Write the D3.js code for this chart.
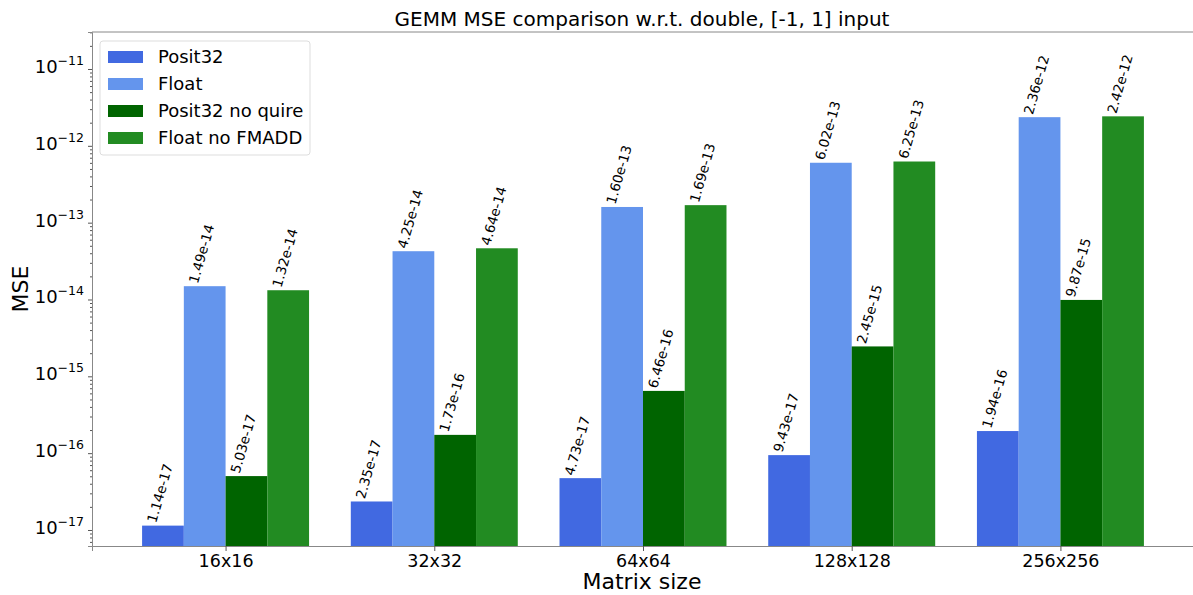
<!DOCTYPE html>
<html lang="en">
  <head>
    <meta charset="utf-8">
    <title>GEMM MSE</title>
    <script src="https://d3js.org/d3.v7.min.js"></script>
    <style>
      body { margin: 0; background: #fff; }
      text { font-family: "DejaVu Sans", sans-serif; fill: #000; }
    </style>
  </head>
  <body>
    <div id="chart"></div>
    <script>
      var sizes = ["16x16", "32x32", "64x64", "128x128", "256x256"];
      var series = ["Posit32", "Float", "Posit32 no quire", "Float no FMADD"];
      var posit32 = [1.14e-17, 2.35e-17, 4.73e-17, 9.43e-17, 1.94e-16];
      var float32 = [1.49e-14, 4.25e-14, 1.60e-13, 6.02e-13, 2.36e-12];
      var positNoQuire = [5.03e-17, 1.73e-16, 6.46e-16, 2.45e-15, 9.87e-15];
      var floatNoFmadd = [1.32e-14, 4.64e-14, 1.69e-13, 6.25e-13, 2.42e-12];
      var yTicks = [1e-17, 1e-16, 1e-15, 1e-14, 1e-13, 1e-12, 1e-11];
      var colors = ["#4169e1", "#6495ed", "#006400", "#228b22"];

      var values = [posit32, float32, positNoQuire, floatNoFmadd];

      var w = 1193, h = 595;
      var margin = {top: 32, right: 0, bottom: 49, left: 92};
      var innerWidth = 1102;
      var innerHeight = h - margin.top - margin.bottom;

      var svg = d3.select("#chart").append("svg")
                  .attr("width", w).attr("height", h);

      var g = svg.append("g")
                 .attr("transform", `translate(${margin.left},${margin.top})`);

      // group centers at 0..4, padded like matplotlib
      var xScale = d3.scaleLinear().domain([-0.64, sizes.length - 1 + 0.64])
                     .range([0, innerWidth]);
      var barW = 0.2;

      var yScale = d3.scaleLog().domain([6.19e-18, 3.03e-11]).range([innerHeight, 0]);

      // bars
      series.forEach(function(s, si){
        var grp = g.append("g");
        grp.selectAll("rect").data(values[si]).enter().append("rect")
           .attr("x", (d, i) => xScale(i + (si - 2) * barW))
           .attr("y", d => yScale(d))
           .attr("width", xScale(barW) - xScale(0))
           .attr("height", d => innerHeight - yScale(d))
           .attr("fill", colors[si]);
        grp.selectAll("text").data(values[si]).enter().append("text")
           .attr("transform", (d, i) => `translate(${xScale(i + (si - 2) * barW) + 14},${yScale(d) - 2}) rotate(-74)`)
           .attr("font-size", 13.5)
           .text(d => d.toExponential(2));
      });

      // y axis, minor ticks
      var minor = [];
      for (var e = -18; e <= -11; e++) {
        for (var m = 2; m <= 9; m++) {
          var v = m * Math.pow(10, e);
          if (v > 6.19e-18 && v < 3.03e-11) minor.push(v);
        }
      }
      g.append("g").attr("class", "yMinor")
       .call(d3.axisLeft(yScale).tickValues(minor).tickSize(2).tickFormat(""))
       .call(a => a.select(".domain").remove())
       .selectAll("line").attr("stroke", "#555");

      var yAxis = g.append("g").attr("class", "yAxis")
       .call(d3.axisLeft(yScale).tickValues(yTicks).tickSize(4).tickPadding(4).tickFormat(""));
      yAxis.selectAll(".tick").append("text")
        .attr("x", -8).attr("dy", "0.35em").attr("text-anchor", "end")
        .attr("fill", "#000")
        .each(function(d){
          var ex = Math.round(Math.log10(d));
          var t = d3.select(this);
          t.append("tspan").attr("font-size", 18).text("10");
          t.append("tspan").attr("font-size", 12.5).attr("dy", "-0.65em").text("\u2212" + Math.abs(ex));
        });
      yAxis.select(".domain").attr("stroke", "#888");
      yAxis.selectAll("line").attr("stroke", "#555");

      // x axis
      var xAxis = g.append("g").attr("class", "xAxis")
        .attr("transform", `translate(0,${innerHeight})`)
        .call(d3.axisBottom(xScale).tickValues(d3.range(sizes.length))
              .tickFormat(i => sizes[i]).tickSize(5).tickPadding(4));
      xAxis.select(".domain").attr("stroke", "#888");
      xAxis.selectAll("line").attr("stroke", "#555");
      xAxis.selectAll("text").attr("font-size", 17.5).attr("font-family", "DejaVu Sans");

      // top spine
      g.append("line").attr("x1", 0).attr("x2", innerWidth).attr("y1", 0).attr("y2", 0)
       .attr("stroke", "#888");

      // labels
      svg.append("text").attr("x", 642).attr("y", 26).attr("text-anchor", "middle")
         .attr("font-size", 20).text("GEMM MSE comparison w.r.t. double, [-1, 1] input");
      svg.append("text").attr("x", 642).attr("y", 589).attr("text-anchor", "middle")
         .attr("font-size", 22).text("Matrix size");
      svg.append("text").attr("transform", "translate(28,289) rotate(-90)")
         .attr("text-anchor", "middle").attr("font-size", 22).text("MSE");

      // legend
      var legend = svg.append("g").attr("transform", "translate(100,41)");
      legend.append("rect").attr("width", 210).attr("height", 114).attr("rx", 3)
            .attr("fill", "#fff").attr("fill-opacity", 0.8)
            .attr("stroke", "#ddd");
      series.forEach(function(s, i){
        legend.append("rect").attr("x", 8).attr("y", 10 + 27 * i)
              .attr("width", 35).attr("height", 12).attr("fill", colors[i]);
        legend.append("text").attr("x", 58).attr("y", 16 + 27 * i).attr("dy", "0.35em")
              .attr("font-size", 18).text(s);
      });
    </script>
  </body>
</html>
